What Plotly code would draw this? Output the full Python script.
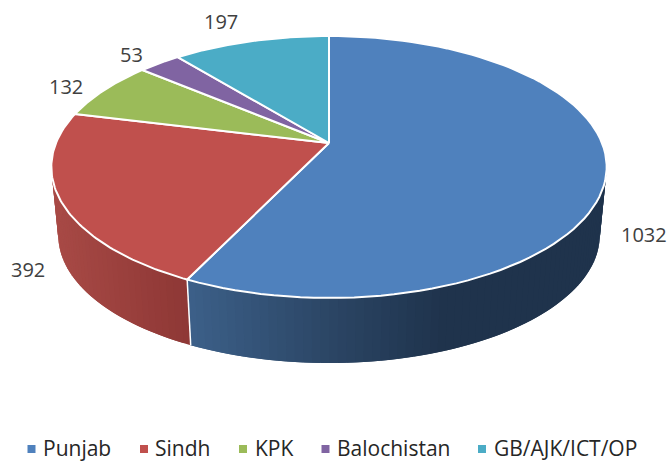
import numpy as np
import plotly.graph_objects as go

categories = ["Punjab", "Sindh", "KPK", "Balochistan", "GB/AJK/ICT/OP"]
values = [1032, 392, 132, 53, 197]
colors = ["#4F81BD", "#C0504D", "#9BBB59", "#8064A2", "#4BACC6"]
label_xy = [(644, 234), (28, 269), (66, 86), (131, 54), (221, 21)]
legend_marker_x = [31.5, 144, 243, 325.5, 482]
legend_text_x = [44, 156, 256, 338, 495]
LEGEND_Y = 448

# side shading: x anchors (pixels) and RGB stops per slice
side_shade = {
    0: ([190, 340, 450], [(61, 97, 138), (43, 69, 100), (31, 51, 76)]),
    1: ([58, 190], [(168, 74, 70), (143, 56, 54)]),
}

CX, CY = 329, 143
A, B, PERSP = 273.0, 126.6, 0.183
DEPTH, BOTTOM_SCALE = 69.0, 0.975


def project(theta, bottom=False):
    u, v = np.sin(theta), -np.cos(theta)
    k = 1 - PERSP * v
    s = BOTTOM_SCALE if bottom else 1.0
    return CX + s * A * u / k, CY + (DEPTH if bottom else 0) + s * B * v / k


vals = np.array(values, dtype=float)
edges = np.concatenate([[0], np.cumsum(vals) / vals.sum() * 2 * np.pi])
VIS0, VIS1 = np.radians(83), np.radians(277)

fig = go.Figure()


def poly(xs, ys, fill, line=None, width=1.0):
    fig.add_trace(go.Scatter(x=xs, y=ys, mode="lines", fill="toself", fillcolor=fill,
                             line=dict(color=line or fill, width=width),
                             hoverinfo="skip", showlegend=False))


# side wall, drawn as thin overlapping strips so the shading can vary along it
for i in range(len(vals)):
    a0, a1 = max(edges[i], VIS0), min(edges[i + 1], VIS1)
    if a1 <= a0 or i not in side_shade:
        continue
    xa, stops = side_shade[i]
    n = max(2, int(np.degrees(a1 - a0) / 1.5))
    t = np.linspace(a0, a1, n + 1)
    for j in range(n):
        seg = np.array([t[j], min(t[j + 1] + (t[1] - t[0]), a1)])
        xt, yt = project(seg)
        xb, yb = project(seg[::-1], bottom=True)
        xm = (xt[0] + xb[1]) / 2
        rgb = [np.interp(xm, xa, [s[c] for s in stops]) for c in range(3)]
        col = "rgb(%d,%d,%d)" % tuple(rgb)
        poly(list(xt) + list(xb) + [xt[0]], list(yt) + list(yb) + [yt[0]], col, col, 0)

# seam between slices on the wall
for e in edges[1:-1]:
    if VIS0 < e < VIS1:
        xt, yt = project(np.array(e))
        xb, yb = project(np.array(e), bottom=True)
        fig.add_trace(go.Scatter(x=[xt, xb], y=[yt, yb], mode="lines",
                                 line=dict(color="white", width=1.5),
                                 hoverinfo="skip", showlegend=False))

# top face
for i in range(len(vals)):
    t = np.linspace(edges[i], edges[i + 1], 90)
    x, y = project(t)
    poly([CX] + list(x) + [CX], [CY] + list(y) + [CY], colors[i], "#FFFFFF", 2)

# legend: square markers with names
fig.add_trace(go.Scatter(x=legend_marker_x, y=[LEGEND_Y + 1] * len(categories), mode="markers",
                         marker=dict(symbol="square", size=8, color=colors),
                         hoverinfo="skip", showlegend=False))
for name, tx in zip(categories, legend_text_x):
    fig.add_annotation(x=tx, y=LEGEND_Y, text=name, showarrow=False, xanchor="left",
                       xshift=-3, font=dict(family="Open Sans", size=21, color="#262626"))

for v, (lx, ly) in zip(values, label_xy):
    fig.add_annotation(x=lx, y=ly, text=str(v), showarrow=False,
                       font=dict(family="Open Sans", size=20, color="#404040"))

fig.update_layout(
    width=672, height=461, margin=dict(l=0, r=0, t=0, b=0),
    paper_bgcolor="white", plot_bgcolor="white", showlegend=False,
    xaxis=dict(range=[0, 672], visible=False, fixedrange=True),
    yaxis=dict(range=[461, 0], visible=False, fixedrange=True),
    font=dict(family="Open Sans", size=20, color="#404040"),
)
fig.write_html("out.html", config=dict(displayModeBar=False),
               post_script="document.body.style.margin='0';document.documentElement.style.overflow='hidden';")
